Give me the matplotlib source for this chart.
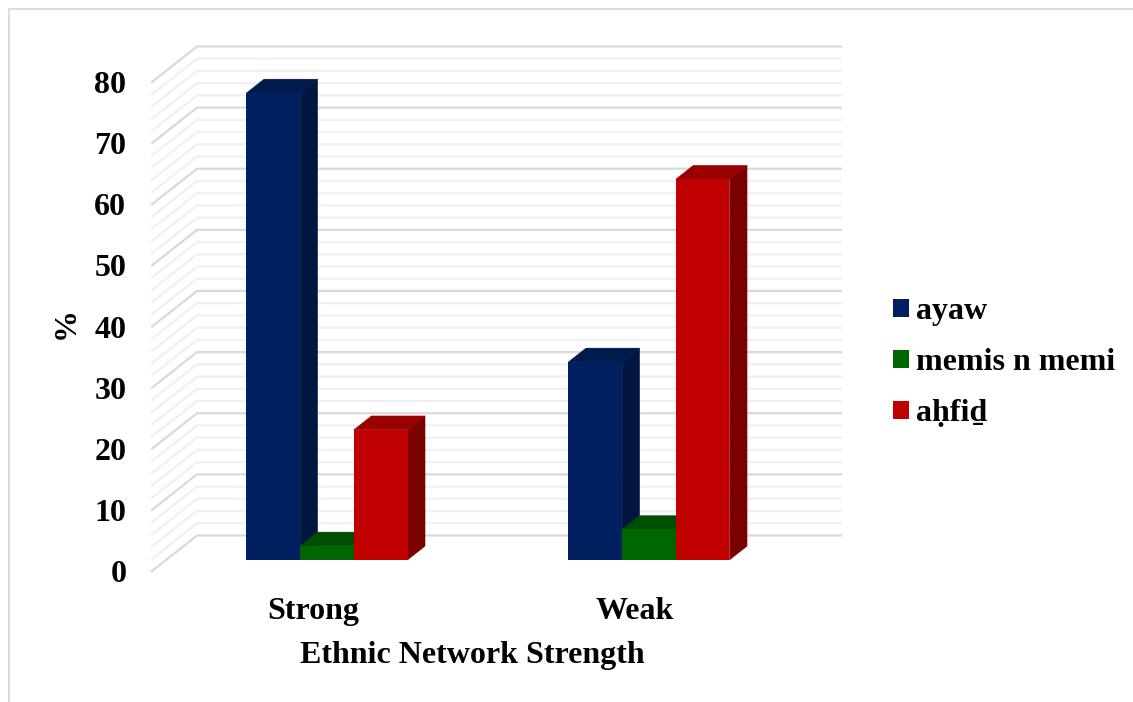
import matplotlib
matplotlib.use("Agg")
import matplotlib.pyplot as plt
from matplotlib.lines import Line2D
from matplotlib.patches import Patch, Polygon
import numpy as np

plt.rcParams['font.family'] = ['Liberation Serif', 'DejaVu Serif']
plt.rcParams['font.weight'] = 'bold'

categories = ['Strong', 'Weak']
ayaw = [76.4, 32.4]
memis = [2.3, 5.0]
ahfid = [21.3, 62.3]
series_names = ['ayaw', 'memis n memi', 'a\u1e25fi\u1e0f']
y_ticks = [0, 10, 20, 30, 40, 50, 60, 70, 80]

# front, top and side shades for each series
front_colors = ['#002060', '#006600', '#C00000']
top_colors = ['#001A4D', '#004F00', '#990000']
side_colors = ['#00153F', '#003F00', '#7B0000']

# oblique projection: how far the back wall sits from the front plane, in data units
wall_dx = 45 / 322
wall_dy = 35.5 / 6.11
bar_front = 0.31
bar_back = 0.70
bar_width = 53.7 / 322

W, H = 1133, 702
fig = plt.figure(figsize=(W / 100, H / 100), dpi=100)
ax = fig.add_axes([152 / W, (H - 571) / H, 644 / W, 489 / H])
ax.set_xlim(0, 2)
ax.set_ylim(0, 80)
for s in ax.spines.values():
    s.set_visible(False)

# floor-to-wall gridlines, every 2 % with a stronger line every 10 %
for v in range(0, 82, 2):
    major = v % 10 == 0
    c = '#D9D9D9' if major else '#F0F0F0'
    ax.plot([0, wall_dx, 2 + wall_dx], [v, v + wall_dy, v + wall_dy],
            color=c, lw=1.6, clip_on=False, zorder=2 if major else 1,
            solid_joinstyle='miter')

# each group: 3 bars with a fake 3D top and side
all_series = [ayaw, memis, ahfid]
for j in range(len(categories)):
    for i, vals in enumerate(all_series):
        left = j + 0.5 + bar_front * wall_dx + (i - 1.5) * bar_width
        right = left + bar_width
        base = bar_front * wall_dy
        top = base + vals[j]
        sx = (bar_back - bar_front) * wall_dx
        sy = (bar_back - bar_front) * wall_dy
        ax.bar(left, vals[j], width=bar_width, bottom=base, align='edge',
               color=front_colors[i], clip_on=False, zorder=5 + i * 2)
        ax.add_patch(Polygon([(left, top), (right, top), (right + sx, top + sy), (left + sx, top + sy)],
                             closed=True, fc=top_colors[i], ec=top_colors[i], lw=0.3, clip_on=False, zorder=4 + i * 2))
        ax.add_patch(Polygon([(right, base), (right + sx, base + sy), (right + sx, top + sy), (right, top)],
                             closed=True, fc=side_colors[i], ec=side_colors[i], lw=0.3, clip_on=False, zorder=4 + i * 2))

ax.set_yticks(y_ticks)
ax.set_xticks([0.5, 1.5])
ax.set_xticklabels(categories)
ax.tick_params(axis='y', length=0, pad=18.5, labelsize=23)
ax.tick_params(axis='x', length=0, pad=18.5, labelsize=23)

ax.set_xlabel('Ethnic Network Strength', fontsize=23, fontweight='bold')
ax.xaxis.set_label_coords(0.4975, -0.143)
ax.set_ylabel('%', fontsize=23, fontweight='bold')
ax.yaxis.set_label_coords(-0.11, 0.508)

handles = [Patch(fc=c, ec='none') for c in front_colors]
ax.legend(handles, series_names, loc='upper left', bbox_to_anchor=(893 / W, (H - 297) / H),
          bbox_transform=fig.transFigure, frameon=False, fontsize=23,
          handlelength=0.5, handleheight=0.5, handletextpad=0.23,
          labelspacing=0.69, borderpad=0, borderaxespad=0)

# thin outer frame of the chart area
fig.add_artist(Line2D([9 / W, 9 / W, 1], [0, (H - 9) / H, (H - 9) / H], color='#D9D9D9', lw=1.3))

fig.savefig('out.png', dpi=100)
